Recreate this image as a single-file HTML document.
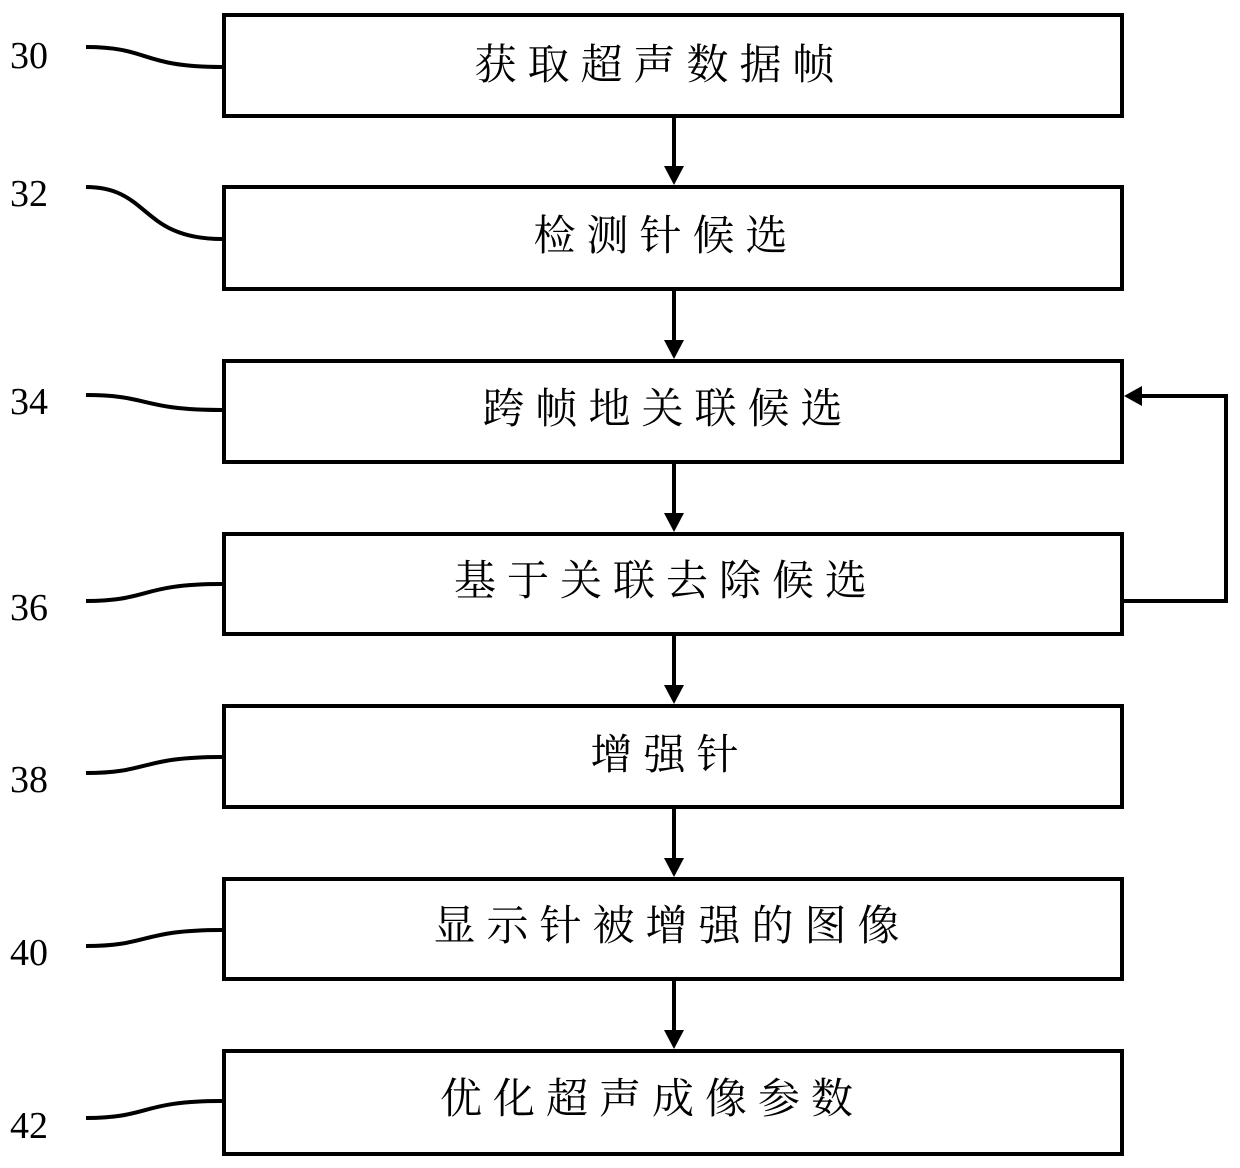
<!DOCTYPE html>
<html><head><meta charset="utf-8"><style>
body{margin:0;background:#fff;}
svg{display:block}
.t{font-family:"Liberation Serif","Noto Serif CJK SC",serif;font-size:42px;letter-spacing:11px;text-anchor:middle;dominant-baseline:central;fill:#000}
.n{font-family:"Liberation Serif",serif;font-size:38px;fill:#000}
</style></head><body>
<svg width="1240" height="1168" viewBox="0 0 1240 1168">
<defs><marker id="a" markerWidth="8" markerHeight="8" refX="7" refY="4" orient="auto" markerUnits="userSpaceOnUse" viewBox="0 0 8 8"><path d="M0,0 L8,4 L0,8z"/></marker></defs>
<g fill="none" stroke="#000" stroke-width="4">
<rect x="224" y="15" width="898" height="101"/>
<rect x="224" y="187" width="898" height="102"/>
<rect x="224" y="361" width="898" height="101"/>
<rect x="224" y="534" width="898" height="100"/>
<rect x="224" y="706" width="898" height="101"/>
<rect x="224" y="879" width="898" height="100"/>
<rect x="224" y="1051" width="898" height="103"/>
<path d="M86,47 C150,47 140,67 222,67"/>
<path d="M86,187 C150,187 140,239 222,239"/>
<path d="M86,395 C150,395 140,410 222,410"/>
<path d="M86,601 C150,601 140,584 222,584"/>
<path d="M86,773 C150,773 140,757 222,757"/>
<path d="M86,946 C150,946 140,930 222,930"/>
<path d="M86,1118 C150,1118 140,1101 222,1101"/>
<path d="M1124,601 H1226 V396 H1140"/>
</g>
<g stroke="#000" stroke-width="4">
<line x1="674" y1="117" x2="674" y2="168"/>
<line x1="674" y1="290" x2="674" y2="342"/>
<line x1="674" y1="463" x2="674" y2="515"/>
<line x1="674" y1="635" x2="674" y2="687"/>
<line x1="674" y1="808" x2="674" y2="860"/>
<line x1="674" y1="980" x2="674" y2="1032"/>
</g>
<g fill="#000">
<path d="M664,166 L684,166 L674,185z"/>
<path d="M664,340 L684,340 L674,359z"/>
<path d="M664,513 L684,513 L674,532z"/>
<path d="M664,685 L684,685 L674,704z"/>
<path d="M664,858 L684,858 L674,877z"/>
<path d="M664,1030 L684,1030 L674,1049z"/>
<path d="M1142,386 L1142,406 L1124,396z"/>
</g>
<text class="t" x="660" y="66">获取超声数据帧</text>
<text class="t" x="666" y="237">检测针候选</text>
<text class="t" x="668" y="410">跨帧地关联候选</text>
<text class="t" x="666" y="582">基于关联去除候选</text>
<text class="t" x="670" y="756">增强针</text>
<text class="t" x="672" y="927">显示针被增强的图像</text>
<text class="t" x="652" y="1100">优化超声成像参数</text>
<text class="n" x="10" y="68">30</text>
<text class="n" x="10" y="206">32</text>
<text class="n" x="10" y="414">34</text>
<text class="n" x="10" y="620">36</text>
<text class="n" x="10" y="792">38</text>
<text class="n" x="10" y="965">40</text>
<text class="n" x="10" y="1138">42</text>
</svg>
</body></html>
